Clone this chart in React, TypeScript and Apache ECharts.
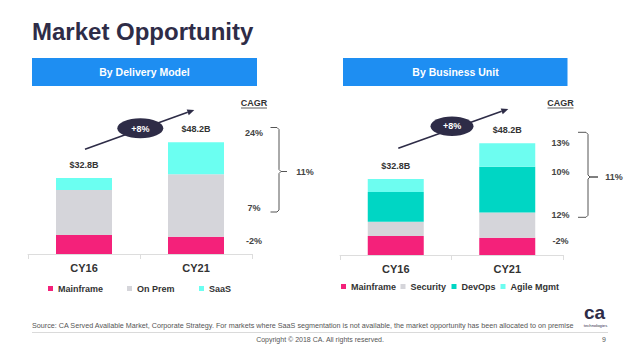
import React, { useEffect, useRef } from "react";
import * as echarts from "echarts";

const categories = ["CY16", "CY21"];
// By Delivery Model ($B)
const mainframe = [8.2, 7.5];
const onPrem = [19.4, 26.9];
const saas = [5.2, 13.8];
// By Business Unit ($B)
const buMainframe = [8.2, 7.5];
const security = [6.1, 10.8];
const devOps = [12.9, 19.8];
const agileMgmt = [5.6, 10.1];

const totalLabels = ["$32.8B", "$48.2B"];
const growthLabel = "+8%";
const cagrDelivery = ["24%", "7%", "-2%"];
const cagrBusiness = ["13%", "10%", "12%", "-2%"];
const cagrOverall = "11%";

const FONT = "'Liberation Sans', Arial, Helvetica, sans-serif";
const C_PINK = "#f4217a";
const C_GRAY = "#d5d5da";
const C_CYAN = "#6bfff1";
const C_TEAL = "#00d6c4";
const C_AGILE = "#6dfdf0";
const C_BLUE = "#1e8ef2";
const C_DARK = "#2e2c47";
const C_TEXT = "#333333";

function txt(x: number, y: number, text: string, size: number, opts: any = {}) {
  return {
    type: "text",
    x,
    y,
    silent: true,
    style: {
      text,
      fontSize: size,
      fontFamily: FONT,
      fontWeight: opts.bold ? "bold" : "normal",
      fill: opts.fill || C_TEXT,
      textAlign: opts.align || "center",
      textVerticalAlign: "middle",
    },
  };
}

function bracket(x0: number, x1: number, top: number, bottom: number, mid: number, tick: number) {
  return {
    type: "polyline",
    silent: true,
    shape: {
      points: [
        [x0, top],
        [x1 - 2, top],
        [x1, top + 2],
        [x1, mid - 2],
        [x1 + 2, mid],
        [tick, mid],
        [x1 + 2, mid],
        [x1, mid + 2],
        [x1, bottom - 2],
        [x1 - 2, bottom],
        [x0, bottom],
      ],
    },
    style: { stroke: "#555", lineWidth: 1, fill: null },
  };
}

function arrow(x0: number, y0: number, tx: number, ty: number) {
  const dx = tx - x0;
  const dy = ty - y0;
  const len = Math.sqrt(dx * dx + dy * dy);
  const ux = dx / len;
  const uy = dy / len;
  const bx = tx - ux * 7;
  const by = ty - uy * 7;
  const nx = -uy * 3;
  const ny = ux * 3;
  return [
    {
      type: "line",
      silent: true,
      shape: { x1: x0, y1: y0, x2: bx, y2: by },
      style: { stroke: C_DARK, lineWidth: 1.6 },
    },
    {
      type: "polygon",
      silent: true,
      shape: { points: [[tx, ty], [bx + nx, by + ny], [bx - nx, by - ny]] },
      style: { fill: C_DARK },
    },
  ];
}

function legendItem(name: string, left: number, top: number) {
  return {
    data: [name],
    left,
    top,
    padding: 0,
    icon: "rect",
    itemWidth: 5,
    itemHeight: 5,
    selectedMode: false,
    textStyle: { fontSize: 9, fontWeight: "bold", color: C_TEXT, fontFamily: FONT },
  };
}

export default function App() {
  const ref = useRef<HTMLDivElement>(null);

  useEffect(() => {
    if (!ref.current) return;
    const chart = echarts.init(ref.current, undefined, { renderer: "svg" });

    const xAxisBase = {
      type: "category",
      data: categories,
      axisLine: { lineStyle: { color: "#dddddd", width: 1 } },
      axisTick: { show: true, length: 5, lineStyle: { color: "#dddddd" } },
      axisLabel: { fontSize: 11, fontWeight: "bold", color: C_TEXT, margin: 8, fontFamily: FONT },
    };
    const yAxisBase = { type: "value", min: 0, max: 60, show: false, splitLine: { show: false } };

    const totalLabel = {
      show: true,
      position: "top",
      distance: 9,
      fontSize: 9,
      fontWeight: "bold",
      color: C_TEXT,
      fontFamily: FONT,
      formatter: (p: any) => totalLabels[p.dataIndex],
    };

    const graphic: any[] = [
      txt(32, 31, "Market Opportunity", 24, { bold: true, fill: C_DARK, align: "left" }),
      { type: "rect", silent: true, shape: { x: 32, y: 58, width: 225, height: 28 }, style: { fill: C_BLUE } },
      { type: "rect", silent: true, shape: { x: 343, y: 58, width: 224.5, height: 28 }, style: { fill: C_BLUE } },
      txt(144.5, 72, "By Delivery Model", 10.5, { bold: true, fill: "#ffffff" }),
      txt(455.5, 72, "By Business Unit", 10.5, { bold: true, fill: "#ffffff" }),
      ...arrow(85, 149.3, 194.3, 110),
      ...arrow(398.3, 148.3, 508.3, 109),
      { type: "ellipse", silent: true, shape: { cx: 140.3, cy: 128.3, rx: 23, ry: 10 }, style: { fill: C_DARK } },
      { type: "ellipse", silent: true, shape: { cx: 452, cy: 126.2, rx: 21.5, ry: 9.7 }, style: { fill: C_DARK } },
      txt(140.3, 128.5, growthLabel, 9, { bold: true, fill: "#ffffff" }),
      txt(452, 126.4, growthLabel, 9, { bold: true, fill: "#ffffff" }),
      // CAGR headers
      txt(254, 103, "CAGR", 9, { bold: true }),
      { type: "line", silent: true, shape: { x1: 241, y1: 108, x2: 267, y2: 108 }, style: { stroke: C_TEXT, lineWidth: 0.8 } },
      txt(560.5, 103, "CAGR", 9, { bold: true }),
      { type: "line", silent: true, shape: { x1: 547.5, y1: 108, x2: 573.5, y2: 108 }, style: { stroke: C_TEXT, lineWidth: 0.8 } },
      // CAGR values: delivery model
      txt(254, 133, cagrDelivery[0], 9, { bold: true, fill: "#444" }),
      txt(254, 207.5, cagrDelivery[1], 9, { bold: true, fill: "#444" }),
      txt(254, 240.7, cagrDelivery[2], 9, { bold: true, fill: "#444" }),
      bracket(270.5, 279, 127.5, 212, 171.5, 287),
      txt(305, 171.7, cagrOverall, 9, { bold: true, fill: "#444" }),
      // CAGR values: business unit
      txt(560.5, 142.7, cagrBusiness[0], 9, { bold: true, fill: "#444" }),
      txt(560.5, 171.7, cagrBusiness[1], 9, { bold: true, fill: "#444" }),
      txt(560.5, 215, cagrBusiness[2], 9, { bold: true, fill: "#444" }),
      txt(560.5, 240.7, cagrBusiness[3], 9, { bold: true, fill: "#444" }),
      bracket(578, 588, 132.3, 217.3, 177, 598),
      txt(614, 176.7, cagrOverall, 9, { bold: true, fill: "#444" }),
      // footer
      txt(32, 325.5, "Source: CA Served Available Market, Corporate Strategy. For markets where SaaS segmentation is not available, the market opportunity has been allocated to on premise", 7.2, { fill: "#555", align: "left" }),
      { type: "line", silent: true, shape: { x1: 32, y1: 332.5, x2: 608, y2: 332.5 }, style: { stroke: "#d0d0d0", lineWidth: 0.8 } },
      txt(320, 339.5, "Copyright © 2018 CA. All rights reserved.", 7, { fill: "#555" }),
      txt(604, 339.5, "9", 7, { fill: "#555" }),
      txt(594.5, 312, "ca", 19, { bold: true, fill: C_DARK }),
      txt(595.5, 325, "technologies", 4.2, { fill: C_DARK }),
    ];

    chart.setOption({
      animation: false,
      textStyle: { fontFamily: FONT },
      grid: [
        { left: 28, width: 224, bottom: 106, height: 139, containLabel: false },
        { left: 340, width: 223, bottom: 105, height: 139, containLabel: false },
      ],
      xAxis: [
        { ...xAxisBase, gridIndex: 0 },
        { ...xAxisBase, gridIndex: 1 },
      ],
      yAxis: [
        { ...yAxisBase, gridIndex: 0 },
        { ...yAxisBase, gridIndex: 1 },
      ],
      legend: [
        legendItem("Mainframe", 48, 284),
        legendItem("On Prem", 127, 284),
        legendItem("SaaS", 199, 284),
        legendItem("Security", 400.5, 282),
        legendItem("DevOps", 451.5, 282),
        legendItem("Agile Mgmt", 500.5, 282),
        { ...legendItem("Mainframe", 341, 282) },
      ],
      series: [
        { name: "Mainframe", type: "bar", stack: "L", xAxisIndex: 0, yAxisIndex: 0, barWidth: 56, data: mainframe, itemStyle: { color: C_PINK } },
        { name: "On Prem", type: "bar", stack: "L", xAxisIndex: 0, yAxisIndex: 0, barWidth: 56, data: onPrem, itemStyle: { color: C_GRAY } },
        { name: "SaaS", type: "bar", stack: "L", xAxisIndex: 0, yAxisIndex: 0, barWidth: 56, data: saas, itemStyle: { color: C_CYAN }, label: totalLabel },
        { name: "Mainframe", type: "bar", stack: "R", xAxisIndex: 1, yAxisIndex: 1, barWidth: 56, data: buMainframe, itemStyle: { color: C_PINK } },
        { name: "Security", type: "bar", stack: "R", xAxisIndex: 1, yAxisIndex: 1, barWidth: 56, data: security, itemStyle: { color: C_GRAY } },
        { name: "DevOps", type: "bar", stack: "R", xAxisIndex: 1, yAxisIndex: 1, barWidth: 56, data: devOps, itemStyle: { color: C_TEAL } },
        { name: "Agile Mgmt", type: "bar", stack: "R", xAxisIndex: 1, yAxisIndex: 1, barWidth: 56, data: agileMgmt, itemStyle: { color: C_AGILE }, label: totalLabel },
      ],
      graphic,
    });

    return () => chart.dispose();
  }, []);

  return (
    <div
      ref={ref}
      style={{ position: "fixed", left: 0, top: 0, width: 640, height: 360, background: "#ffffff" }}
    />
  );
}
